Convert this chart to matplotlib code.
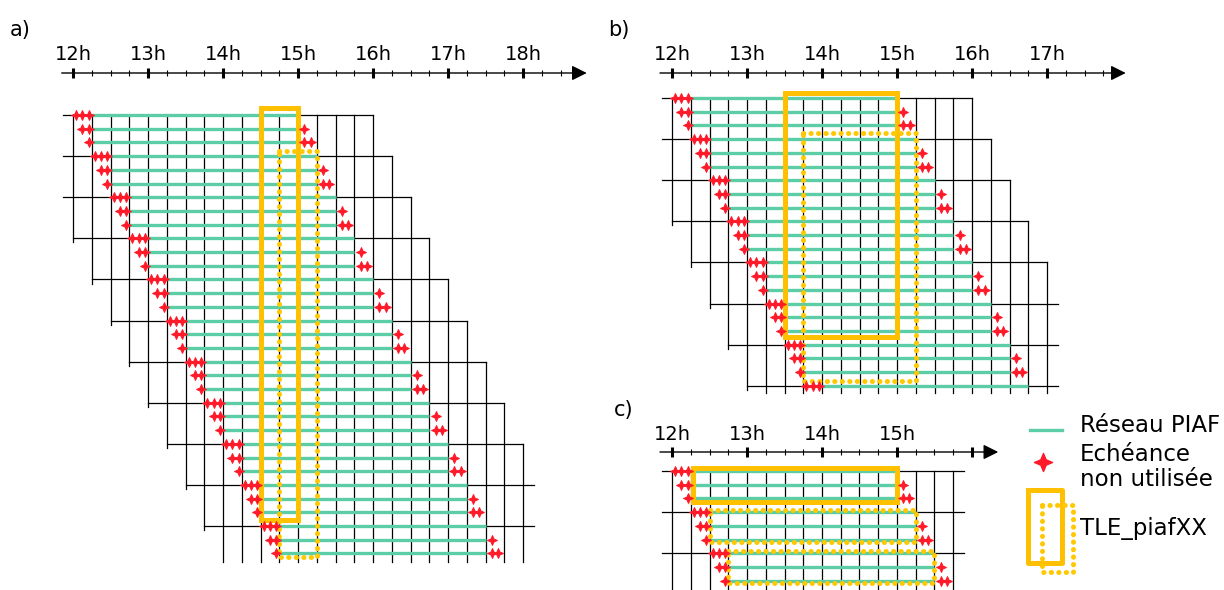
"""Schematic of PIAF runs and the TLE_piafXX time windows (panels a, b, c)."""
import matplotlib
matplotlib.use("Agg")
import matplotlib.pyplot as plt
import numpy as np
from matplotlib.path import Path

W, H, DPI = 1224, 590, 100
PX_HOUR = 75.0      # pixels per hour on every panel
PX_ROW = 13.7       # pixels between two runs

GREEN = "#5CCDA4"
RED = "#FF1A2A"
GOLD = "#FFC000"
GOLD_DOT = "#FFC800"

# 4-point star used for the unused forecast steps
_ang = np.deg2rad(np.arange(0, 360, 45) + 90)
_rad = np.tile([1.0, 0.42], 4)
STAR = Path(np.c_[_rad * np.cos(_ang), _rad * np.sin(_ang)].tolist() + [[0, 1]],
            closed=True)

# run structure: one run every 5 min, 3 runs per 15-min block
RUNS_PER_BLOCK = 3
RUN_STEP_MIN = 5
BLOCK_STEP_H = 0.25
RUN_LENGTH_H = 3.0
FIRST_USED_H = 0.25       # first forecast kept, relative to block start
GRID_BEFORE_H = 0.75
GRID_AFTER_H = 4.0
OVERHANG_H = 0.14

# panel a
a_blocks, a_rows = 11, 33
a_hours = [12, 13, 14, 15, 16, 17, 18]
a_grid_end = 18.0
a_minor_end = 18.5
a_axis = (11.85, 18.85)
a_tle_solid = [(14.5, 15.0, -0.5, 29.55)]
a_tle_dotted = [(14.75, 15.25, 2.6, 32.25)]

# panel b
b_blocks, b_rows = 8, 22
b_hours = [12, 13, 14, 15, 16, 17]
b_grid_end = 17.0
b_minor_end = 17.75
b_axis = (11.84, 18.05)
b_tle_solid = [(13.5, 15.0, -0.4, 17.45)]
b_tle_dotted = [(13.75, 15.25, 2.55, 20.65)]

# panel c
c_blocks, c_rows = 3, 9
c_hours = [12, 13, 14, 15]
c_majors = [12, 13, 14, 15, 16]
c_grid_end = 15.75
c_minor_end = 16.0
c_axis = (11.84, 16.35)
c_tle_solid = [(12.28, 15.0, -0.25, 2.25)]
c_tle_dotted = [(12.5, 15.25, 2.85, 5.15), (12.75, 15.5, 5.85, 8.15)]

legend_labels = ["Réseau PIAF", "Echéance\nnon utilisée", "TLE_piafXX"]


def panel_axes(fig, left, top, right, bottom, x12, y0):
    ax = fig.add_axes([left / W, 1 - bottom / H, (right - left) / W, (bottom - top) / H])
    ax.set_xlim(12 + (left - x12) / PX_HOUR, 12 + (right - x12) / PX_HOUR)
    ax.set_ylim((bottom - y0) / PX_ROW, (top - y0) / PX_ROW)
    ax.axis("off")
    return ax


def draw_grid(ax, n_blocks, t_max, r_bottom):
    lo, hi = 12 - OVERHANG_H, t_max + OVERHANG_H
    for k in range(n_blocks):
        s = 12 + BLOCK_STEP_H * k
        r = RUNS_PER_BLOCK * k
        ax.plot([max(s - GRID_BEFORE_H, lo), min(s + GRID_AFTER_H, hi)], [r, r],
                color="k", lw=0.9, zorder=1)
    for t in np.arange(12, t_max + 1e-9, BLOCK_STEP_H):
        k_top = max(0, int(np.ceil((t - 12 - GRID_AFTER_H) / BLOCK_STEP_H - 1e-9)))
        k_bot = int(np.floor((t - 12 + GRID_BEFORE_H) / BLOCK_STEP_H + 1e-9))
        if k_top >= n_blocks:
            continue
        r_end = RUNS_PER_BLOCK * k_bot + 0.3 if k_bot < n_blocks else r_bottom
        ax.plot([t, t], [RUNS_PER_BLOCK * k_top, min(r_end, r_bottom)],
                color="k", lw=0.9, zorder=1)


def draw_runs(ax, n_blocks, n_rows):
    for k in range(n_blocks):
        s = 12 + BLOCK_STEP_H * k
        for j in range(RUNS_PER_BLOCK):
            r = RUNS_PER_BLOCK * k + j
            if r >= n_rows:
                break
            ax.plot([s + FIRST_USED_H, s + RUN_LENGTH_H], [r, r], color=GREEN,
                    lw=2.4, solid_capstyle="butt", zorder=2)
            left = [s + (RUN_STEP_MIN * i + 2.5) / 60 for i in range(j, RUNS_PER_BLOCK)]
            right = [s + RUN_LENGTH_H + RUN_STEP_MIN * i / 60 for i in range(1, j + 1)]
            xs = left + right
            ax.plot(xs, [r] * len(xs), ls="none", marker=STAR, ms=7,
                    color=RED, mec=RED, mew=0.8, zorder=4)


def draw_box(ax, t0, t1, r0, r1, dotted):
    xs, ys = [t0, t1, t1, t0, t0], [r0, r0, r1, r1, r0]
    if dotted:
        ax.plot(xs, ys, color=GOLD_DOT, lw=3.6, ls=(0, (0.05, 1.45)),
                dash_capstyle="round", zorder=3)
    else:
        ax.plot(xs, ys, color=GOLD, lw=3.6, solid_joinstyle="miter", zorder=3)


def draw_time_axis(ax, r_axis, span, majors, labels, minor_end):
    ax.annotate("", xy=(span[1], r_axis), xytext=(span[0], r_axis),
                arrowprops=dict(arrowstyle="-|>,head_length=0.6,head_width=0.3",
                                color="k", lw=1.0, mutation_scale=15,
                                shrinkA=0, shrinkB=0))
    minors = np.arange(12, minor_end + 1e-9, 0.25)
    ax.plot(minors, [r_axis] * len(minors), ls="none", marker="|", ms=4,
            mew=0.8, color="k")
    ax.plot(majors, [r_axis] * len(majors), ls="none", marker="|", ms=7,
            mew=2.2, color="k")
    for h in labels:
        ax.annotate(f"{h}h", (h, r_axis), xytext=(0, 9), textcoords="offset points",
                    ha="center", va="baseline", fontsize=14)


def main():
    fig = plt.figure(figsize=(W / DPI, H / DPI), dpi=DPI)

    # a)
    ax = panel_axes(fig, 0, 0, 600, 590, 73, 115)
    draw_grid(ax, a_blocks, a_grid_end, 32.6)
    draw_runs(ax, a_blocks, a_rows)
    for b in a_tle_solid:
        draw_box(ax, *b, dotted=False)
    for b in a_tle_dotted:
        draw_box(ax, *b, dotted=True)
    draw_time_axis(ax, (73 - 115) / PX_ROW, a_axis, a_hours, a_hours, a_minor_end)

    # b)
    ax = panel_axes(fig, 600, 0, 1224, 400, 672, 98)
    draw_grid(ax, b_blocks, b_grid_end, 21.5)
    draw_runs(ax, b_blocks, b_rows)
    for b in b_tle_solid:
        draw_box(ax, *b, dotted=False)
    for b in b_tle_dotted:
        draw_box(ax, *b, dotted=True)
    draw_time_axis(ax, (73 - 98) / PX_ROW, b_axis, b_hours, b_hours, b_minor_end)

    # c)
    ax = panel_axes(fig, 600, 395, 1010, 590, 672, 471)
    draw_grid(ax, c_blocks, c_grid_end, 9.0)
    draw_runs(ax, c_blocks, c_rows)
    for b in c_tle_solid:
        draw_box(ax, *b, dotted=False)
    for b in c_tle_dotted:
        draw_box(ax, *b, dotted=True)
    draw_time_axis(ax, (452 - 471) / PX_ROW, c_axis, c_majors, c_hours, c_minor_end)

    # legend, drawn in pixel units
    lg = fig.add_axes([1010 / W, 0, 214 / W, 200 / H])
    lg.set_xlim(1010, 1224)
    lg.set_ylim(590, 390)
    lg.axis("off")
    lg.plot([1030, 1062], [430, 430], color=GREEN, lw=2.4)
    lg.plot([1043], [462], ls="none", marker=STAR, ms=13, color=RED)
    lg.plot([1028, 1062, 1062, 1028, 1028], [490, 490, 563, 563, 490], color=GOLD, lw=3.6)
    lg.plot([1042, 1073, 1073, 1042, 1042], [505, 505, 572, 572, 505], color=GOLD_DOT,
            lw=3.6, ls=(0, (0.05, 1.45)), dash_capstyle="round")
    lg.text(1080, 425, legend_labels[0], fontsize=16.5, va="center")
    lg.text(1080, 467, legend_labels[1], fontsize=16.5, va="center", linespacing=1.1)
    lg.text(1080, 528, legend_labels[2], fontsize=16.5, va="center")

    # panel letters
    for x, y, s in [(10, 30, "a)"), (608, 30, "b)"), (614, 410, "c)")]:
        fig.text(x / W, 1 - y / H, s, fontsize=15, va="center")

    fig.savefig("out.png", dpi=DPI)
    plt.close(fig)


if __name__ == "__main__":
    main()
